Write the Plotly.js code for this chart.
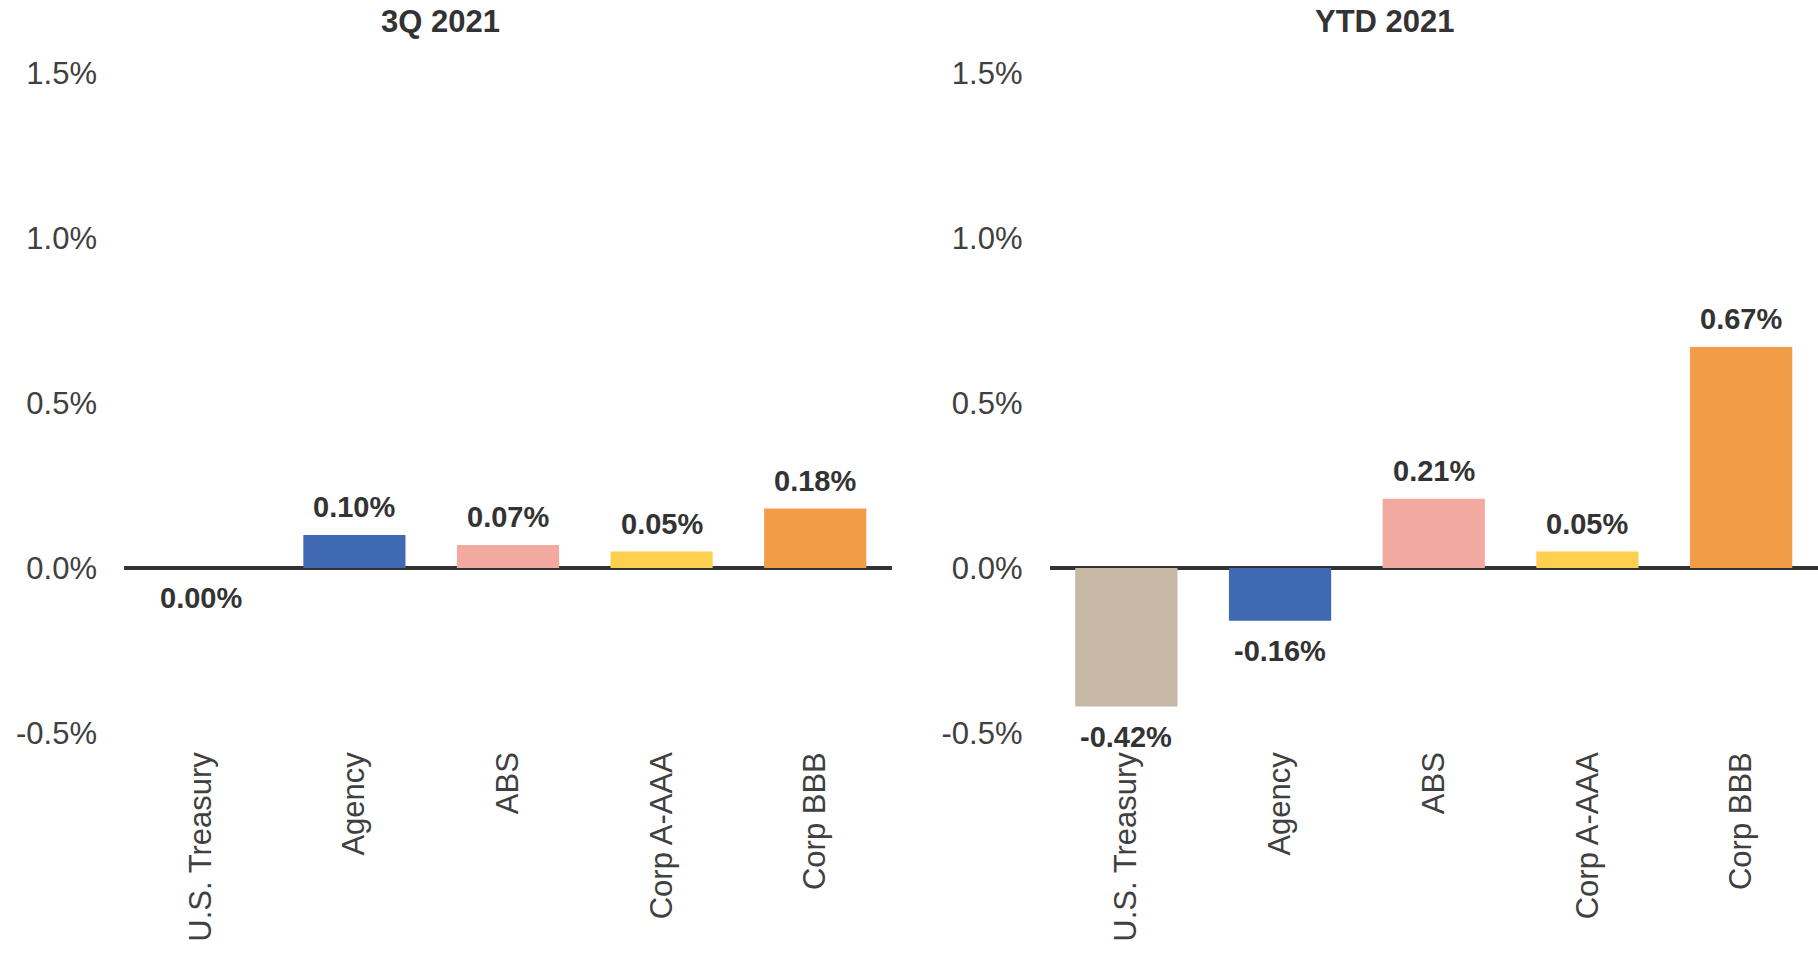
<!DOCTYPE html>
<html>
<head>
<meta charset="utf-8">
<script src="https://cdn.plot.ly/plotly-3.0.1.min.js"></script>
<style>html,body{margin:0;padding:0;background:#fff;}#chart{width:1818px;height:954px;}</style>
</head>
<body>
<div id="chart"></div>
<script>
const categories = ["U.S. Treasury", "Agency", "ABS", "Corp A-AAA", "Corp BBB"];
const q3Values = [0.00, 0.10, 0.07, 0.05, 0.18];
const ytdValues = [-0.42, -0.16, 0.21, 0.05, 0.67];
const barColors = ["#C6B8A4", "#3F69B2", "#F2A99F", "#FFCF50", "#F29C47"];
const panelTitles = ["3Q 2021", "YTD 2021"];
const yTickVals = [-0.5, 0, 0.5, 1.0, 1.5];
const yTickText = ["-0.5%", "0.0%", "0.5%", "1.0%", "1.5%"];

const FONT = "Liberation Sans, Arial, sans-serif";

function barTrace(vals, xa, ya) {
  return {
    type: "bar", x: categories, y: vals, xaxis: xa, yaxis: ya,
    marker: {color: barColors}, hoverinfo: "skip", showlegend: false
  };
}

function labelAnns(vals, xa, ya) {
  return vals.map((v, i) => ({
    x: categories[i], y: v, xref: xa, yref: ya,
    text: v.toFixed(2) + "%", showarrow: false,
    yanchor: "middle", yshift: v > 0 ? 28 : -30,
    font: {family: FONT, size: 29, color: "#333333", weight: "bold"}
  }));
}

const axisY = {
  range: [-0.5, 1.5], tickvals: yTickVals, ticktext: yTickText,
  showgrid: false, zeroline: true, zerolinecolor: "#333333", zerolinewidth: 3.5,
  showline: false, ticks: "", ticklabelstandoff: 26,
  tickfont: {family: FONT, size: 31, color: "#404040"}, fixedrange: true
};
const axisX = {
  type: "category", showgrid: false, showline: false, ticks: "",
  tickangle: -90, ticklabelstandoff: 12,
  tickfont: {family: FONT, size: 31, color: "#404040"}, fixedrange: true
};

const titleFont = {family: FONT, size: 31, color: "#333333", weight: "bold"};

const layout = {
  width: 1818, height: 954,
  margin: {l: 0, r: 0, t: 73, b: 221},
  paper_bgcolor: "#ffffff", plot_bgcolor: "#ffffff",
  bargap: 0.335,
  showlegend: false,
  xaxis: Object.assign({}, axisX, {domain: [124/1818, 892/1818], anchor: "y"}),
  yaxis: Object.assign({}, axisY, {anchor: "x"}),
  xaxis2: Object.assign({}, axisX, {domain: [1049.5/1818, 1], anchor: "y2"}),
  yaxis2: Object.assign({}, axisY, {anchor: "x2"}),
  annotations: [
    {x: 440/1818, y: 1, xref: "paper", yref: "paper", yshift: 52, text: panelTitles[0], showarrow: false,
     xanchor: "center", yanchor: "middle", font: titleFont},
    {x: 1385/1818, y: 1, xref: "paper", yref: "paper", yshift: 52, text: panelTitles[1], showarrow: false,
     xanchor: "center", yanchor: "middle", font: titleFont}
  ].concat(labelAnns(q3Values, "x", "y"))
   .concat(labelAnns(ytdValues, "x2", "y2"))
};

Plotly.newPlot("chart", [barTrace(q3Values, "x", "y"), barTrace(ytdValues, "x2", "y2")], layout, {displayModeBar: false, staticPlot: true});
</script>
</body>
</html>
